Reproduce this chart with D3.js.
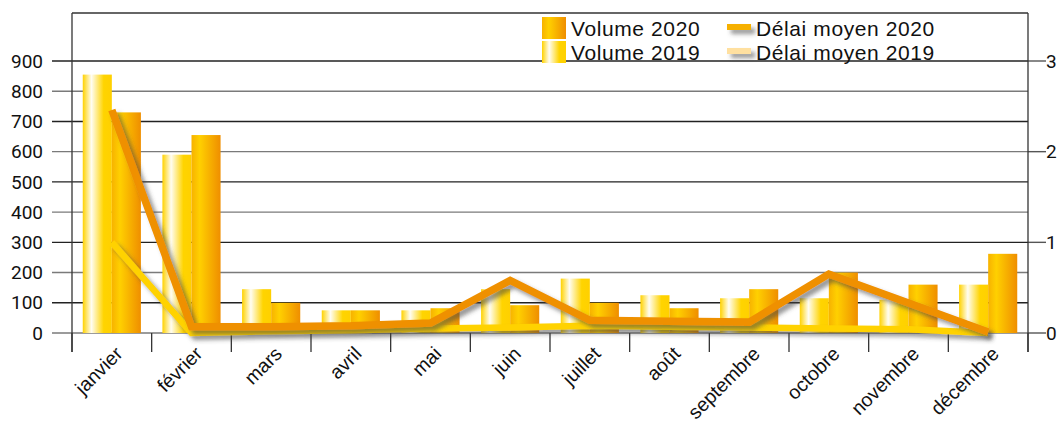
<!DOCTYPE html>
<html>
<head>
  <meta charset="utf-8" />
  <title>Volume et délai moyen</title>
  <style type="text/css">
  body {
    margin: 0;
    background: #fff;
  }
  svg text {
    font-family: 'Liberation Sans', Arial, sans-serif;
    fill: #111;
  }
  .tick-label {
    font-family: Roboto, 'Liberation Sans', sans-serif !important;
    font-size: 19px;
  }
  </style>
</head>
<body>

<div id="chart"></div>

<script src="https://cdn.jsdelivr.net/npm/d3@7"></script>
<script>
  // months on the x axis
  var months = ['janvier', 'février', 'mars', 'avril', 'mai', 'juin', 'juillet',
                'août', 'septembre', 'octobre', 'novembre', 'décembre'];

  // bars (left axis)
  var volume2019 = [855, 590, 145, 75, 75, 145, 180, 125, 115, 115, 110, 160];
  var volume2020 = [730, 655, 100, 75, 82, 92, 100, 82, 145, 200, 160, 262];

  // lines (right axis)
  var delai2019 = [1.0, 0.0, 0.02, 0.03, 0.05, 0.06, 0.08, 0.07, 0.06, 0.05, 0.04, 0.0];
  var delai2020 = [2.46, 0.07, 0.07, 0.08, 0.11, 0.58, 0.14, 0.13, 0.12, 0.65, 0.33, 0.01];

  var leftTicks = [0, 100, 200, 300, 400, 500, 600, 700, 800, 900];
  var rightTicks = [0, 1, 2, 3];

  var width = 1057, height = 422;
  var plot = {left: 72, right: 1028, top: 13, bottom: 333};

  var svg = d3.select('#chart').append('svg')
    .attr('width', width)
    .attr('height', height);

  var defs = svg.append('defs');

  function gradient(id, stops) {
    var g = defs.append('linearGradient').attr('id', id)
      .attr('x1', '0%').attr('x2', '100%').attr('y1', '0%').attr('y2', '0%');
    stops.forEach(function (s) {
      g.append('stop').attr('offset', s[0]).attr('stop-color', s[1]);
    });
  }
  gradient('g2019', [['0%', '#ffd200'], ['30%', '#fffdf2'], ['72%', '#ffd400'], ['100%', '#ffd000']]);
  gradient('g2020', [['0%', '#f7b200'], ['28%', '#ffd000'], ['100%', '#ef8e00']]);

  // shadow region in user space so flat legend lines keep it too
  var shadow = defs.append('filter').attr('id', 'shadow')
    .attr('filterUnits', 'userSpaceOnUse')
    .attr('x', 0).attr('y', 0).attr('width', width).attr('height', height);
  shadow.append('feDropShadow')
    .attr('dx', 4).attr('dy', 4).attr('stdDeviation', 2.2)
    .attr('flood-color', '#444').attr('flood-opacity', 0.55);

  var x0 = d3.scaleBand().domain(months).range([plot.left, plot.right]).padding(0);
  var x1 = d3.scaleBand().domain(['2019', '2020'])
    .range([0, x0.bandwidth()]).paddingInner(0).paddingOuter(0.37);

  var yLeft = d3.scaleLinear().domain([0, 900]).range([plot.bottom, 61]);
  var yRight = d3.scaleLinear().domain([0, 3]).range([plot.bottom, 61]);

  // frame top
  svg.append('line')
    .attr('x1', plot.left).attr('x2', plot.right)
    .attr('y1', plot.top).attr('y2', plot.top)
    .attr('stroke', '#333').attr('stroke-width', 1.3);

  // grid lines
  svg.append('g').selectAll('line')
    .data(leftTicks)
    .enter().append('line')
    .attr('x1', plot.left - 20).attr('x2', plot.right)
    .attr('y1', function (d) { return yLeft(d); })
    .attr('y2', function (d) { return yLeft(d); })
    .attr('stroke', function (d, i) { return i % 2 ? '#222' : '#7a7a7a'; })
    .attr('stroke-width', 1.4);

  // left tick labels
  svg.append('g').selectAll('text')
    .data(leftTicks)
    .enter().append('text')
    .attr('class', 'tick-label')
    .attr('x', 43)
    .attr('y', function (d) { return yLeft(d); })
    .attr('dy', '0.35em')
    .attr('text-anchor', 'end')
    .text(function (d) { return d; });

  // right ticks
  var rt = svg.append('g').selectAll('g')
    .data(rightTicks)
    .enter().append('g')
    .attr('transform', function (d) { return 'translate(0,' + yRight(d) + ')'; });
  rt.append('line')
    .attr('x1', plot.right).attr('x2', plot.right + 18)
    .attr('stroke', '#555').attr('stroke-width', 1.4);
  rt.append('text')
    .attr('class', 'tick-label')
    .attr('x', plot.right + 18)
    .attr('dy', '0.35em')
    .text(function (d) { return d; });

  // bars
  var groups = svg.append('g').selectAll('g')
    .data(months)
    .enter().append('g')
    .attr('transform', function (d) { return 'translate(' + x0(d) + ',0)'; });

  groups.append('rect')
    .attr('x', x1('2019'))
    .attr('width', x1.bandwidth())
    .attr('y', function (d, i) { return yLeft(volume2019[i]); })
    .attr('height', function (d, i) { return plot.bottom - yLeft(volume2019[i]); })
    .attr('fill', 'url(#g2019)');

  groups.append('rect')
    .attr('x', x1('2020'))
    .attr('width', x1.bandwidth())
    .attr('y', function (d, i) { return yLeft(volume2020[i]); })
    .attr('height', function (d, i) { return plot.bottom - yLeft(volume2020[i]); })
    .attr('fill', 'url(#g2020)');

  // axes lines
  svg.append('line')
    .attr('x1', plot.left).attr('x2', plot.left)
    .attr('y1', plot.top).attr('y2', 352)
    .attr('stroke', '#333').attr('stroke-width', 1.3);
  svg.append('line')
    .attr('x1', plot.right).attr('x2', plot.right)
    .attr('y1', plot.top).attr('y2', 352)
    .attr('stroke', '#333').attr('stroke-width', 1.3);

  // category ticks
  var bounds = months.map(function (m) { return x0(m); }).concat([plot.right]);
  svg.append('g').selectAll('line')
    .data(bounds)
    .enter().append('line')
    .attr('x1', function (d) { return d; }).attr('x2', function (d) { return d; })
    .attr('y1', plot.bottom).attr('y2', 352)
    .attr('stroke', '#333').attr('stroke-width', 1.3);

  // month labels
  svg.append('g').selectAll('text')
    .data(months)
    .enter().append('text')
    .attr('transform', function (d) {
      return 'translate(' + (x0(d) + x0.bandwidth() / 2 + 12) + ',355) rotate(-45)';
    })
    .attr('text-anchor', 'end')
    .style('font-size', '19.5px')
    .text(function (d) { return d; });

  // lines
  var line = function (values) {
    return d3.line()
      .x(function (d, i) { return x0(months[i]) + x0.bandwidth() / 2; })
      .y(function (d) { return yRight(d); })(values);
  };

  svg.append('path')
    .attr('d', line(delai2019))
    .attr('fill', 'none')
    .attr('stroke', '#ffd200')
    .attr('stroke-width', 6.5)
    .attr('filter', 'url(#shadow)');

  svg.append('path')
    .attr('d', line(delai2020))
    .attr('fill', 'none')
    .attr('stroke', '#ef9000')
    .attr('stroke-width', 7.5)
    .attr('filter', 'url(#shadow)');

  // legend
  var legend = svg.append('g');
  legend.append('rect').attr('x', 542).attr('y', 17).attr('width', 24).attr('height', 22)
    .attr('fill', 'url(#g2020)');
  legend.append('rect').attr('x', 542).attr('y', 41).attr('width', 24).attr('height', 22)
    .attr('fill', 'url(#g2019)');
  legend.append('line').attr('x1', 727).attr('x2', 751).attr('y1', 27).attr('y2', 27)
    .attr('stroke', '#f6b000').attr('stroke-width', 6).attr('filter', 'url(#shadow)');
  legend.append('line').attr('x1', 727).attr('x2', 751).attr('y1', 51).attr('y2', 51)
    .attr('stroke', '#ffe0a0').attr('stroke-width', 6).attr('filter', 'url(#shadow)');

  var legendText = [
    ['Volume 2020', 571, 36], ['Volume 2019', 571, 60],
    ['Délai moyen 2020', 756, 36], ['Délai moyen 2019', 756, 60]
  ];
  legend.selectAll('text')
    .data(legendText)
    .enter().append('text')
    .attr('x', function (d) { return d[1]; })
    .attr('y', function (d) { return d[2]; })
    .style('font-size', '21px')
    .style('letter-spacing', '0.6px')
    .text(function (d) { return d[0]; });
</script>
</body>
</html>
